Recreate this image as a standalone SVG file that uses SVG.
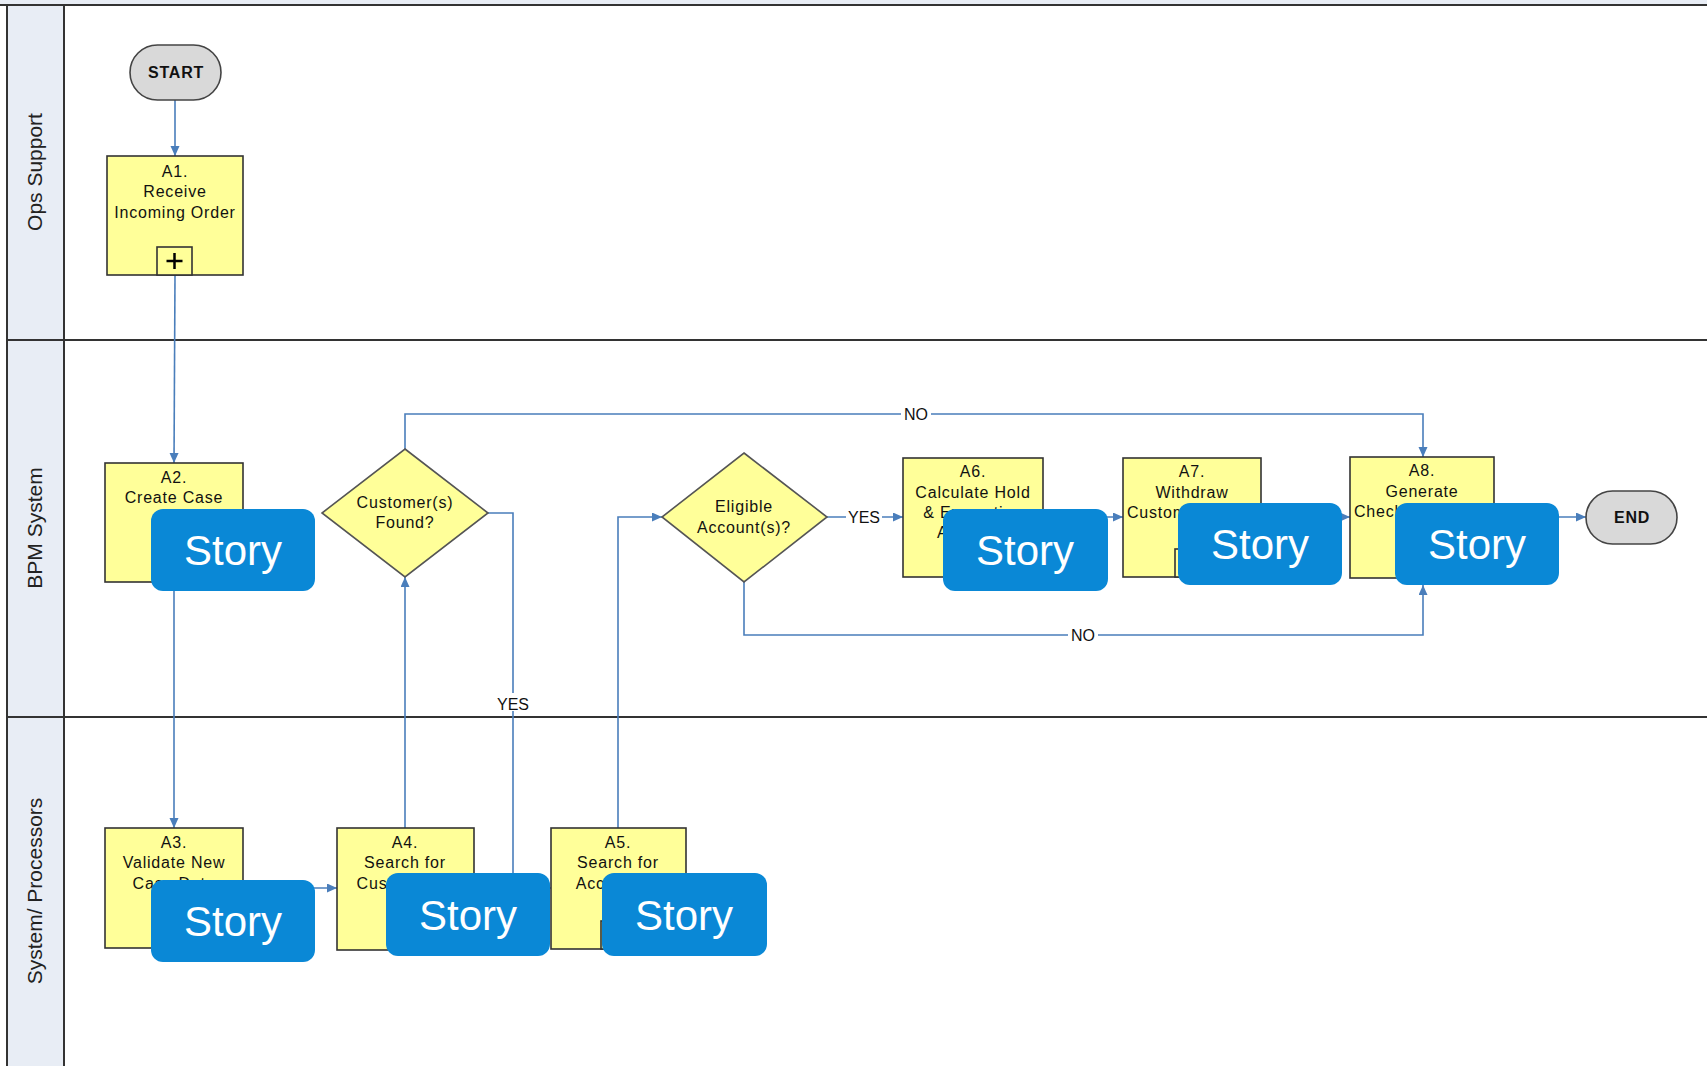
<svg xmlns="http://www.w3.org/2000/svg" width="1707" height="1066" viewBox="0 0 1707 1066">
<defs>
<marker id="arr" markerUnits="userSpaceOnUse" markerWidth="11" markerHeight="10" refX="10" refY="4.5" orient="auto">
<path d="M0,0 L10,4.5 L0,9 z" fill="#4a7ebb"/>
</marker>
<style>
.lane{stroke:#333;stroke-width:2;fill:none}
.hdr{fill:#e8edf5}
.lbl{font-family:"Liberation Sans",Arial,sans-serif;font-size:21px;fill:#222;text-anchor:middle}
.box{fill:#ffff99;stroke:#333;stroke-width:1.6}
.dia{fill:#ffff99;stroke:#555;stroke-width:1.6}
.t{font-family:"Liberation Sans",Arial,sans-serif;font-size:16px;letter-spacing:0.8px;fill:#111;text-anchor:middle}
.ts{text-anchor:start}
.term{fill:#d9d9d9;stroke:#444;stroke-width:1.6}
.tt{font-family:"Liberation Sans",Arial,sans-serif;font-size:16px;font-weight:bold;letter-spacing:0.8px;fill:#111;text-anchor:middle}
.c{fill:none;stroke:#4a7ebb;stroke-width:1.6}
.ca{fill:none;stroke:#4a7ebb;stroke-width:1.6;marker-end:url(#arr)}
.cl{font-family:"Liberation Sans",Arial,sans-serif;font-size:16px;fill:#111;text-anchor:middle}
.st{fill:#0a88d6}
.stt{font-family:"Liberation Sans",Arial,sans-serif;font-size:42px;fill:#fff;text-anchor:middle}
.mk{fill:#ffff99;stroke:#333;stroke-width:1.6}
</style>
</defs>
<rect width="1707" height="1066" fill="#fff"/>
<g id="lanes">
<rect x="0" y="0" width="1707" height="5" fill="#e8edf5"/>
<rect class="hdr" x="7" y="5" width="57" height="1061"/>
<line class="lane" x1="0" y1="5" x2="1707" y2="5"/>
<line class="lane" x1="7" y1="5" x2="7" y2="1066"/>
<line class="lane" x1="64" y1="5" x2="64" y2="1066"/>
<line class="lane" x1="7" y1="340" x2="1707" y2="340"/>
<line class="lane" x1="7" y1="717" x2="1707" y2="717"/>
<text class="lbl" transform="translate(42,172) rotate(-90)">Ops Support</text>
<text class="lbl" transform="translate(42,528) rotate(-90)">BPM System</text>
<text class="lbl" transform="translate(42,891) rotate(-90)">System/ Processors</text>
</g>
<g id="connectors">
<line class="ca" x1="175" y1="100" x2="175" y2="156"/>
<line class="ca" x1="175" y1="275" x2="174" y2="463"/>
<line class="ca" x1="174" y1="582" x2="174" y2="828"/>
<line class="ca" x1="243" y1="888" x2="337" y2="888"/>
<line class="ca" x1="405" y1="828" x2="405" y2="577"/>
<polyline class="ca" points="488,513 513,513 513,888 551,888"/>
<rect x="495" y="693" width="36" height="18" fill="#fff"/>
<text class="cl" x="513" y="710">YES</text>
<polyline class="ca" points="618,828 618,517 662,517"/>
<polyline class="ca" points="405,449 405,414 1423,414 1423,457"/>
<rect x="901" y="405" width="30" height="18" fill="#fff"/>
<text class="cl" x="916" y="420">NO</text>
<line class="ca" x1="827" y1="517" x2="903" y2="517"/>
<rect x="846" y="508" width="36" height="18" fill="#fff"/>
<text class="cl" x="864" y="523">YES</text>
<polyline class="ca" points="744,582 744,635 1423,635 1423,585"/>
<rect x="1068" y="626" width="30" height="18" fill="#fff"/>
<text class="cl" x="1083" y="641">NO</text>
<line class="ca" x1="1043" y1="517" x2="1123" y2="517"/>
<line class="ca" x1="1261" y1="517" x2="1350" y2="517"/>
<line class="ca" x1="1494" y1="517" x2="1586" y2="517"/>
</g>
<g id="start">
<rect class="term" x="130" y="45" width="91" height="55" rx="27.5"/>
<text class="tt" x="176" y="78">START</text>
</g>
<g id="a1">
<rect class="box" x="107" y="156" width="136" height="119"/>
<text class="t" x="175" y="177">A1.</text>
<text class="t" x="175" y="197">Receive</text>
<text class="t" x="175" y="218">Incoming Order</text>
<rect class="mk" x="157" y="247" width="35" height="28"/>
<path d="M174.5,253 v16 M166.5,261 h16" stroke="#000" stroke-width="2.5"/>
</g>
<g id="a2">
<rect class="box" x="105" y="463" width="138" height="119"/>
<text class="t" x="174" y="483">A2.</text>
<text class="t" x="174" y="503">Create Case</text>
</g>
<g id="d1">
<polygon class="dia" points="405,449 488,513 405,577 322,513"/>
<text class="t" x="405" y="508">Customer(s)</text>
<text class="t" x="405" y="528">Found?</text>
</g>
<g id="a3">
<rect class="box" x="105" y="828" width="138" height="120"/>
<text class="t" x="174" y="848">A3.</text>
<text class="t" x="174" y="868">Validate New</text>
<text class="t" x="174" y="889">Case Data</text>
</g>
<g id="a4">
<rect class="box" x="337" y="828" width="137" height="122"/>
<text class="t" x="405" y="848">A4.</text>
<text class="t" x="405" y="868">Search for</text>
<text class="t" x="405" y="889">Customer(s)</text>
</g>
<g id="a5">
<rect class="box" x="551" y="828" width="135" height="121"/>
<text class="t" x="618" y="848">A5.</text>
<text class="t" x="618" y="868">Search for</text>
<text class="t" x="618" y="889">Account(s)</text>
<rect class="mk" x="601" y="921" width="35" height="28"/>
</g>
<g id="d2">
<polygon class="dia" points="744,453 827,517 744,582 662,517"/>
<text class="t" x="744" y="512">Eligible</text>
<text class="t" x="744" y="533">Account(s)?</text>
</g>
<g id="a6">
<rect class="box" x="903" y="458" width="140" height="119"/>
<text class="t" x="973" y="477">A6.</text>
<text class="t" x="973" y="498">Calculate Hold</text>
<text class="t" x="973" y="518">&amp; Exemption</text>
<text class="t ts" x="937" y="538">A</text>
</g>
<g id="a7">
<rect class="box" x="1123" y="458" width="138" height="119"/>
<text class="t" x="1192" y="477">A7.</text>
<text class="t" x="1192" y="498">Withdraw</text>
<text class="t ts" x="1127" y="518">Customer</text>
<rect class="mk" x="1175" y="549" width="35" height="28"/>
</g>
<g id="a8">
<rect class="box" x="1350" y="457" width="144" height="121"/>
<text class="t" x="1422" y="476">A8.</text>
<text class="t" x="1422" y="497">Generate</text>
<text class="t ts" x="1354" y="517">Check</text>
</g>
<g id="end">
<rect class="term" x="1586" y="491" width="91" height="53" rx="26.5"/>
<text class="tt" x="1632" y="523">END</text>
</g>
<g id="story-a2"><rect class="st" x="151" y="509" width="164" height="82" rx="12"/><text class="stt" x="233" y="565">Story</text></g>
<g id="story-a3"><rect class="st" x="151" y="880" width="164" height="82" rx="12"/><text class="stt" x="233" y="936">Story</text></g>
<g id="story-a4"><rect class="st" x="386" y="873" width="164" height="83" rx="12"/><text class="stt" x="468" y="930">Story</text></g>
<g id="story-a5"><rect class="st" x="602" y="873" width="165" height="83" rx="12"/><text class="stt" x="684" y="930">Story</text></g>
<g id="story-a6"><rect class="st" x="943" y="509" width="165" height="82" rx="12"/><text class="stt" x="1025" y="565">Story</text></g>
<g id="story-a7"><rect class="st" x="1178" y="503" width="164" height="82" rx="12"/><text class="stt" x="1260" y="559">Story</text></g>
<g id="story-a8"><rect class="st" x="1395" y="503" width="164" height="82" rx="12"/><text class="stt" x="1477" y="559">Story</text></g>
</svg>
